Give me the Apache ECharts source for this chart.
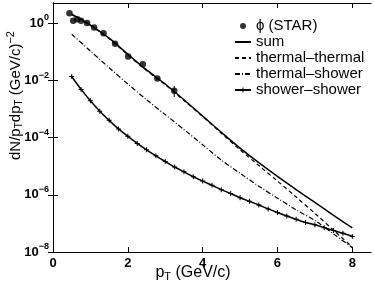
<!DOCTYPE html>
<html><head><meta charset="utf-8">
<script src="https://cdn.jsdelivr.net/npm/echarts@6/dist/echarts.min.js"></script>
<style>html,body{margin:0;padding:0;background:#fff}#c{width:374px;height:287px}</style>
</head><body><div id="c"></div>
<script>
// STAR data
const pTStar = [0.44,0.54,0.65,0.75,0.91,1.10,1.35,1.66,2.01,2.40,2.79,3.24];
const star = [2.2,1.2,1.35,1.2,1.0,0.70,0.44,0.19,0.067,0.036,0.0115,0.0043];
const errPT = [3.24];
const errLow = [0.0026];
const errHigh = [0.0063];
// model curves
const pTCurve = [0.5,1,1.5,2,2.5,3,3.5,4,4.5,5,5.5,6,6.5,7,7.5,8];
const sumV = [2.04,0.851,0.295,0.0813,0.0229,0.00741,0.00209,5.62e-4,1.51e-4,4.27e-5,1.32e-5,4.37e-6,1.51e-6,5.37e-7,1.91e-7,6.9e-8];
const ttV  = [1.95,0.813,0.282,0.0776,0.0219,0.00692,0.00195,5.37e-4,1.41e-4,3.72e-5,1.05e-5,3.02e-6,8.3e-7,2.24e-7,5.75e-8,1.48e-8];
const tsV  = [0.407,0.105,0.0275,0.0074,0.00209,6.3e-4,1.9e-4,5.6e-5,1.62e-5,5.62e-6,2.0e-6,7.6e-7,2.95e-7,1.26e-7,4.27e-8,1.41e-8];
const pTSS = [0.5,0.75,1,1.25,1.5,1.75,2,2.25,2.5,2.75,3,3.25,3.5,3.75,4,4.25,4.5,4.75,5,5.25,5.5,5.75,6,6.25,6.5,6.75,7,7.25,7.5,7.75,8];
const ssV  = [1.35e-2,4.79e-3,1.91e-3,8.3e-4,3.98e-4,2.0e-4,1.10e-4,6.2e-5,3.7e-5,2.29e-5,1.45e-5,9.3e-6,6.3e-6,4.27e-6,3.0e-6,2.14e-6,1.51e-6,1.10e-6,7.9e-7,5.9e-7,4.4e-7,3.2e-7,2.4e-7,1.82e-7,1.38e-7,1.07e-7,8.9e-8,7.1e-8,5.6e-8,4.5e-8,3.5e-8];
const xTicks = [0,2,4,6,8];
const yTicks = [1e-8,1e-6,1e-4,1e-2,1];
const names = ['ϕ (STAR)','sum','thermal–thermal','thermal–shower','shower–shower'];

const FONT = '"Liberation Sans", Arial, Helvetica, sans-serif';
const zip = (a,b) => a.map((v,i)=>[v,b[i]]);
const chart = echarts.init(document.getElementById('c'), null, {renderer:'canvas'});
const lineAxis = {show:true, lineStyle:{color:'#000', width:1}};
const yLabelFmt = v => { const e = Math.round(Math.log10(v)); return '{b|10}{e|' + (e<0?'−':'') + Math.abs(e) + '}'; };
const noSym = {color:'rgba(0,0,0,0)', borderWidth:0, opacity:0};
chart.setOption({
  animation:false,
  backgroundColor:'#fff',
  grid:{left:53, right:3, top:3, bottom:35, show:false, containLabel:false, outerBoundsMode:'none'},
  legend:{
    orient:'vertical', left:229, top:13, itemWidth:16, itemHeight:6, itemGap:0,
    data:[
      {name:names[0]},
      {name:names[1], itemStyle:noSym},
      {name:names[2], itemStyle:noSym},
      {name:names[3], itemStyle:noSym},
      {name:names[4]}
    ],
    textStyle:{fontFamily:FONT, fontSize:15, color:'#000', lineHeight:16, height:16},
    inactiveColor:'#000'
  },
  xAxis:[{
    type:'value', min:0, max:8.5, position:'bottom',
    axisLine:lineAxis, splitLine:{show:false},
    axisTick:{show:true, inside:true, length:5, customValues:xTicks, lineStyle:{color:'#000'}},
    axisLabel:{customValues:xTicks, color:'#000', fontFamily:FONT, fontWeight:'bold', fontSize:13, margin:5},
    name:'{a|p}{s|T}{a| (GeV/c)}', nameLocation:'middle', nameGap:11, nameMoveOverlap:false,
    nameTextStyle:{padding:[0,38,0,0], rich:{a:{fontFamily:FONT, fontSize:16, color:'#000'}, s:{fontFamily:FONT, fontSize:11, color:'#000', padding:[8,0,0,0]}}}
  },{
    type:'value', min:0, max:8.5, position:'top',
    axisLine:lineAxis, splitLine:{show:false},
    axisTick:{show:true, inside:true, length:5, customValues:xTicks, lineStyle:{color:'#000'}},
    axisLabel:{show:false}
  }],
  yAxis:[{
    type:'log', logBase:10, min:1e-8, max:5, position:'left',
    axisLine:lineAxis, splitLine:{show:false}, minorTick:{show:false},
    axisTick:{show:true, inside:true, length:5, customValues:yTicks, lineStyle:{color:'#000'}},
    axisLabel:{customValues:yTicks, formatter:yLabelFmt, margin:4,
      rich:{b:{fontFamily:FONT, fontWeight:'bold', fontSize:13, color:'#000'},
            e:{fontFamily:FONT, fontWeight:'bold', fontSize:9, color:'#000', padding:[0,0,10,0]}}},
    name:'{a|dN/p}{s|T}{a|dp}{s|T}{a| (GeV/c)}{e|−2}', nameLocation:'middle', nameRotate:90, nameGap:27, nameMoveOverlap:false,
    nameTextStyle:{padding:[0,0,0,64], rich:{
      a:{fontFamily:FONT, fontSize:15, color:'#000'},
      s:{fontFamily:FONT, fontSize:10, color:'#000', padding:[8,0,0,0]},
      e:{fontFamily:FONT, fontSize:11, color:'#000', padding:[0,0,10,0]}}}
  },{
    type:'log', logBase:10, min:1e-8, max:5, position:'right',
    axisLine:lineAxis, splitLine:{show:false}, minorTick:{show:false},
    axisTick:{show:true, inside:true, length:5, customValues:yTicks, lineStyle:{color:'#000'}},
    axisLabel:{show:false}
  }],
  series:[
    {name:names[0], type:'scatter', data:zip(pTStar, star), symbol:'circle', symbolSize:6.5, itemStyle:{color:'#000'}, z:5},
    {name:'err', type:'custom', data:errPT.map((x,i)=>[x, errLow[i], errHigh[i]]),
      renderItem:(params, api) => {
        const a = api.coord([api.value(0), api.value(1)]);
        const b = api.coord([api.value(0), api.value(2)]);
        return {type:'line', shape:{x1:a[0], y1:a[1], x2:b[0], y2:b[1]}, style:{stroke:'#000', lineWidth:1}};
      }},
    {name:names[1], type:'line', data:zip(pTCurve, sumV), smooth:0.3, showSymbol:false, symbol:'none', lineStyle:{color:'#000', width:1.5}, itemStyle:{color:'#000'}},
    {name:names[2], type:'line', data:zip(pTCurve, ttV), smooth:0.3, showSymbol:false, symbol:'none', lineStyle:{color:'#000', width:1.2, type:[4,3]}, itemStyle:{color:'#000'}},
    {name:names[3], type:'line', data:zip(pTCurve, tsV), smooth:0.3, showSymbol:false, symbol:'none', lineStyle:{color:'#000', width:1.2, type:[5,2,1,2]}, itemStyle:{color:'#000'}},
    {name:names[4], type:'line', data:zip(pTSS, ssV), smooth:0.3, symbol:'path://M0,4H10V6H0Z M4,0H6V10H4Z', symbolSize:5, showSymbol:true, lineStyle:{color:'#000', width:1.5}, itemStyle:{color:'#000'}}
  ]
});
</script>
</body></html>
